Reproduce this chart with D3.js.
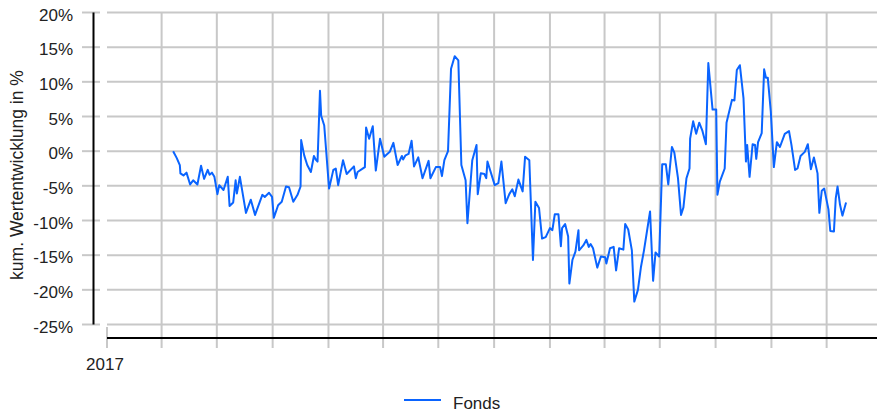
<!DOCTYPE html>
<html>
<head>
<meta charset="utf-8">
<script src="https://cdn.jsdelivr.net/npm/d3@7"></script>
<style>
  body { margin: 0; background: #fff; }
  svg { display: block; font-family: "Liberation Sans", Arial, sans-serif; }
</style>
</head>
<body>
<div id="chart"></div>
<script>
// Tage seit 01.01.2017
const tage = [
  109, 115, 120, 121, 126, 131, 137, 142, 149, 155, 160, 166, 169, 173, 177, 182, 185, 192, 199, 202,
  208, 212, 214, 219, 229, 237, 244, 256, 260, 267, 272, 275, 282, 288, 295, 300, 307, 314, 319, 320,
  325, 330, 336, 341, 344, 347, 351, 353, 358, 366, 373, 377, 381, 389, 395, 407, 410, 413, 420, 425,
  427, 432, 438, 443, 450, 457, 466, 472, 479, 486, 488, 492, 497, 502, 506, 513, 520, 530, 533, 542,
  549, 552, 556, 562, 567, 573, 579, 584, 591, 594, 602, 609, 611, 616, 622, 625, 627, 639, 645, 650,
  657, 663, 668, 672, 678, 685, 689, 696, 702, 706, 712, 717, 723, 730, 734, 738, 744, 748, 750, 755,
  760, 762, 767, 772, 777, 778, 785, 790, 794, 797, 801, 808, 814, 821, 823, 829, 835, 839, 844, 851,
  854, 859, 865, 869, 875, 880, 885, 895, 900, 904, 910, 915, 921, 925, 931, 935, 941, 946, 950, 955,
  960, 961, 966, 971, 976, 981, 987, 991, 998, 1004, 1006, 1010, 1018, 1021, 1030, 1034, 1038, 1043, 1049, 1053,
  1055, 1059, 1064, 1068, 1070, 1073, 1079, 1083, 1086, 1089, 1094, 1099, 1104, 1109, 1117, 1124, 1128, 1134, 1138, 1143,
  1150, 1155, 1160, 1165, 1171, 1174, 1178, 1182, 1189, 1192, 1198, 1201, 1204, 1208, 1212, 1218
];

// kumulierte Wertentwicklung Fonds in %
const fonds = [
  0.0, -1.0, -2.0, -3.2, -3.5, -3.1, -4.8, -4.2, -4.8, -2.1, -4.0, -2.7, -3.4, -3.1, -3.7, -6.2, -4.9, -5.6, -3.7, -7.9,
  -7.4, -4.2, -6.1, -3.7, -8.9, -7.0, -9.2, -6.3, -6.6, -6.0, -6.6, -9.6, -7.8, -7.3, -5.1, -5.2, -7.3, -6.3, -5.1, 1.6,
  -0.6, -2.0, -3.0, -0.7, -1.2, -1.5, 8.7, 5.1, 3.7, -5.4, -2.7, -2.5, -4.9, -1.3, -3.3, -2.2, -3.9, -3.0, -2.6, -2.3,
  3.4, 1.8, 3.6, -2.8, 1.8, -0.8, -0.1, 1.2, -2.0, -0.7, -1.2, -0.6, -0.4, 1.5, -2.2, -0.9, -3.9, -1.4, -3.9, -2.3,
  -2.3, -3.6, -1.3, 0.0, 11.9, 13.7, 13.1, -2.0, -4.2, -10.4, -1.3, 0.9, -6.2, -3.2, -3.3, -3.9, -1.5, -4.9, -4.6, -1.5,
  -7.5, -6.2, -5.5, -6.5, -4.1, -5.8, -0.8, -1.3, -15.7, -7.3, -8.2, -12.6, -12.4, -11.1, -11.4, -9.1, -9.1, -13.7, -11.1, -10.5,
  -12.3, -19.1, -15.7, -14.5, -11.4, -14.3, -13.6, -12.8, -13.8, -13.4, -14.0, -16.8, -15.2, -15.3, -16.2, -14.0, -13.8, -17.2, -14.0, -14.2,
  -10.5, -11.3, -14.3, -21.7, -20.0, -16.7, -14.3, -8.7, -18.7, -14.6, -15.2, -1.9, -1.9, -4.8, 0.6, -0.2, -3.9, -9.2, -8.1, -3.9,
  -2.5, 1.8, 4.3, 2.5, 4.1, 3.0, 1.0, 12.7, 6.0, 6.0, -6.3, -4.4, -2.5, 4.1, 7.4, 7.3, 11.7, 12.4, 7.6, -1.5,
  0.9, -3.7, 1.0, 0.9, -1.1, 1.3, 2.6, 11.8, 10.6, 10.6, 5.7, -2.3, 1.3, 0.6, 2.5, 2.9, 0.9, -2.7, -2.5, -0.7,
  -0.1, 1.0, -2.6, -0.9, -3.2, -8.9, -5.7, -5.4, -8.4, -11.5, -11.6, -6.8, -5.1, -7.7, -9.3, -7.4
];

const yTicks = [20, 15, 10, 5, 0, -5, -10, -15, -20, -25];
const xTickLabels = ["2017"];
const seriesName = "Fonds";
const yTitle = "kum. Wertentwicklung in %";

const width = 877;
const height = 415;
const start = new Date(2017, 0, 1);

const data = tage.map((t, i) => ({ date: d3.timeDay.offset(start, t), value: fonds[i] }));

const svg = d3.select("#chart")
  .append("svg")
  .attr("width", width)
  .attr("height", height);

// Skalen
const x = d3.scaleTime()
  .domain([start, d3.timeDay.offset(start, 1269)])
  .range([107, 877]);

const y = d3.scaleLinear()
  .domain([-25, 20])
  .range([324.5, 12.5]);

const xTicks = d3.timeMonth.every(3).range(start, x.domain()[1]);

const gridColor = "#c8c8c8";

// horizontale Gitterlinien
svg.append("g")
  .selectAll("line")
  .data(yTicks)
  .join("line")
  .attr("x1", 107)
  .attr("x2", width)
  .attr("y1", d => y(d))
  .attr("y2", d => y(d))
  .attr("stroke", gridColor)
  .attr("stroke-width", 2);

// Ticks der y-Achse
svg.append("g")
  .selectAll("line")
  .data(yTicks)
  .join("line")
  .attr("x1", 82)
  .attr("x2", 100)
  .attr("y1", d => y(d))
  .attr("y2", d => y(d))
  .attr("stroke", gridColor)
  .attr("stroke-width", 2);

// vertikale Gitterlinien (erste nur als Tick)
svg.append("g")
  .selectAll("line")
  .data(xTicks)
  .join("line")
  .attr("x1", d => x(d))
  .attr("x2", d => x(d))
  .attr("y1", (d, i) => i === 0 ? 327 : y(20))
  .attr("y2", 348)
  .attr("stroke", gridColor)
  .attr("stroke-width", 2);

// Achsenlinien
svg.append("line")
  .attr("x1", 93.5).attr("x2", 93.5)
  .attr("y1", y(20)).attr("y2", y(-25))
  .attr("stroke", "#000").attr("stroke-width", 2);

svg.append("line")
  .attr("x1", 107).attr("x2", width)
  .attr("y1", 338).attr("y2", 338)
  .attr("stroke", "#000").attr("stroke-width", 2);

// y-Beschriftung
svg.append("g")
  .selectAll("text")
  .data(yTicks)
  .join("text")
  .attr("x", 73)
  .attr("y", d => y(d) + 8)
  .attr("text-anchor", "end")
  .attr("font-size", 17)
  .attr("fill", "#222")
  .text(d => d + "%");

// x-Beschriftung
svg.append("g")
  .selectAll("text")
  .data(xTickLabels)
  .join("text")
  .attr("x", (d, i) => x(xTicks[i]) - 2)
  .attr("y", 370)
  .attr("text-anchor", "middle")
  .attr("font-size", 17)
  .attr("fill", "#222")
  .text(d => d);

// Achsentitel
svg.append("text")
  .attr("transform", "translate(22.5,175) rotate(-90)")
  .attr("text-anchor", "middle")
  .attr("font-size", 17.5)
  .attr("fill", "#222")
  .text(yTitle);

// Linie
const line = d3.line()
  .x(d => x(d.date))
  .y(d => y(d.value));

const blue = "#0a64ff";

svg.append("path")
  .datum(data)
  .attr("d", line)
  .attr("fill", "none")
  .attr("stroke", blue)
  .attr("stroke-width", 2)
  .attr("stroke-linejoin", "round");

// Legende
svg.append("line")
  .attr("x1", 404).attr("x2", 441)
  .attr("y1", 400).attr("y2", 400)
  .attr("stroke", blue)
  .attr("stroke-width", 2);

svg.append("text")
  .attr("x", 453)
  .attr("y", 409)
  .attr("font-size", 17)
  .attr("fill", "#222")
  .text(seriesName);
</script>
</body>
</html>
